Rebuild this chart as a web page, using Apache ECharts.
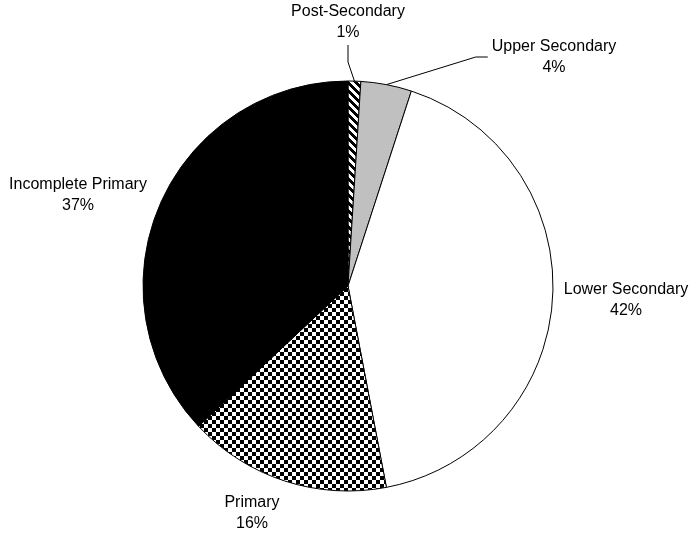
<!DOCTYPE html>
<html>
<head>
<meta charset="utf-8">
<script src="https://cdn.jsdelivr.net/npm/echarts@6/dist/echarts.min.js"></script>
<style>
  html, body { margin: 0; padding: 0; background: #fff; }
  #chart { width: 693px; height: 538px; }
</style>
</head>
<body>
<div id="chart"></div>
<script>
// Education level shares
const categories = ['Post-Secondary', 'Upper Secondary', 'Lower Secondary', 'Primary', 'Incomplete Primary'];
const shares = [1, 4, 42, 16, 37];

// Label block centres (px) and how each leader line attaches
const labelPos = {
  'Post-Secondary': [348, 22],
  'Upper Secondary': [554, 57],
  'Lower Secondary': [626, 300],
  'Primary': [252, 513],
  'Incomplete Primary': [78, 195]
};
const leader = { 'Post-Secondary': 'below', 'Upper Secondary': 'left' };

// Fill patterns drawn on small tiles
function hatchTile() {
  const c = document.createElement('canvas');
  c.width = 8; c.height = 8;
  const ctx = c.getContext('2d');
  const img = ctx.createImageData(8, 8);
  for (let y = 0; y < 8; y++) {
    for (let x = 0; x < 8; x++) {
      const k = (((x - y) % 8) + 8) % 8;
      const v = k < 4 ? 0 : 255;
      const i = (y * 8 + x) * 4;
      img.data[i] = img.data[i + 1] = img.data[i + 2] = v;
      img.data[i + 3] = 255;
    }
  }
  ctx.putImageData(img, 0, 0);
  return c;
}
function checkerTile() {
  const c = document.createElement('canvas');
  c.width = 8; c.height = 8;
  const ctx = c.getContext('2d');
  ctx.fillStyle = '#fff';
  ctx.fillRect(0, 0, 8, 8);
  ctx.fillStyle = '#000';
  ctx.fillRect(0, 0, 4, 4);
  ctx.fillRect(4, 4, 4, 4);
  return c;
}

const fills = {
  'Post-Secondary': { image: hatchTile(), repeat: 'repeat' },
  'Upper Secondary': '#c0c0c0',
  'Lower Secondary': '#ffffff',
  'Primary': { image: checkerTile(), repeat: 'repeat' },
  'Incomplete Primary': '#000000'
};

const pieData = categories.map((name, i) => ({
  name: name,
  value: shares[i],
  itemStyle: { color: fills[name] },
  labelLine: { show: !!leader[name] }
}));

const chart = echarts.init(document.getElementById('chart'), null, { renderer: 'canvas' });
chart.setOption({
  backgroundColor: '#ffffff',
  animation: false,
  series: [{
    type: 'pie',
    center: [348, 286],
    radius: 205,
    startAngle: 90,
    clockwise: true,
    avoidLabelOverlap: false,
    percentPrecision: 0,
    data: pieData,
    itemStyle: { borderColor: '#000', borderWidth: 1 },
    emphasis: { disabled: true },
    label: {
      show: true,
      position: 'outside',
      formatter: '{b}\n{d}%',
      fontFamily: 'Liberation Sans, Arial, sans-serif',
      fontSize: 16,
      lineHeight: 21,
      color: '#000',
      align: 'center'
    },
    labelLine: {
      length: 15,
      length2: 10,
      lineStyle: { color: '#000', width: 1 }
    },
    labelLayout: function (p) {
      const name = categories[p.dataIndex];
      const pos = labelPos[name];
      const w = p.labelRect.width, h = p.labelRect.height;
      const out = { x: pos[0], y: pos[1], align: 'center', verticalAlign: 'middle', hideOverlap: false };
      const edge = p.labelLinePoints && p.labelLinePoints[0];
      if (edge && leader[name] === 'below') {
        const ex = pos[0], ey = pos[1] + h / 2 + 2;
        out.labelLinePoints = [edge, [ex, ey + 17], [ex, ey]];
      } else if (edge && leader[name] === 'left') {
        const ex = pos[0] - w / 2 - 4, ey = pos[1];
        out.labelLinePoints = [edge, [ex - 12, ey], [ex, ey]];
      }
      return out;
    }
  }]
});
</script>
</body>
</html>
